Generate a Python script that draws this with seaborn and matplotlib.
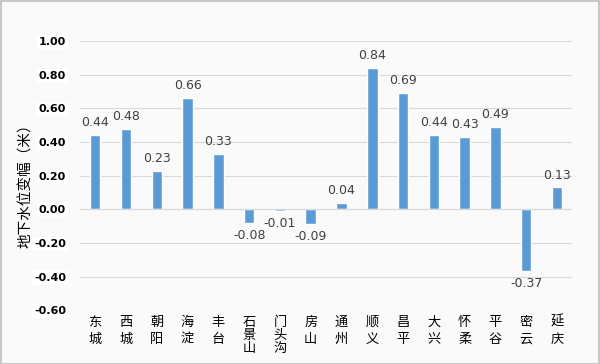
import matplotlib
matplotlib.use("Agg")
import matplotlib.pyplot as plt
import seaborn as sns
import pandas as pd
from matplotlib.patches import Rectangle

districts = ["东城", "西城", "朝阳", "海淀", "丰台", "石景山", "门头沟", "房山", "通州",
             "顺义", "昌平", "大兴", "怀柔", "平谷", "密云", "延庆"]
values = [0.44, 0.48, 0.23, 0.66, 0.33, -0.08, -0.01, -0.09, 0.04,
          0.84, 0.69, 0.44, 0.43, 0.49, -0.37, 0.13]
yticks = [-0.6, -0.4, -0.2, 0.0, 0.2, 0.4, 0.6, 0.8, 1.0]
ylabel = "地下水位变幅（米）"

sns.set_theme(style="white")
plt.rcParams['font.family'] = ['Noto Sans CJK SC', 'DejaVu Sans']

df = pd.DataFrame({"district": districts, "value": values})

fig = plt.figure(figsize=(6.0, 3.64), dpi=100)
fig.patch.set_facecolor("#fafafa")
ax = fig.add_axes([0.133, 0.148, 0.821, 0.739])
ax.set_facecolor("#fafafa")

sns.barplot(data=df, x="district", y="value", color="#5b9bd5", saturation=1,
            width=0.34, ax=ax)

ax.set_ylim(-0.6, 1.0)
ax.set_xlim(-0.5, len(districts) - 0.5)
ax.set_yticks(yticks)
ax.yaxis.grid(True, color="#d9d9d9", linewidth=0.8)
ax.set_axisbelow(True)
ax.axhline(0, color="#d9d9d9", linewidth=0.9, zorder=1)
for s in ax.spines.values():
    s.set_visible(False)

ax.set_yticklabels([f"{t:.2f}" for t in yticks], fontsize=8, fontweight="bold",
                   color="#000000", family=["DejaVu Sans"])
for lbl in ax.get_yticklabels():
    lbl.set_bbox(dict(facecolor="white", edgecolor="none", pad=1.5))
ax.tick_params(axis="y", length=0, pad=10)

ax.set_xticks(range(len(districts)))
ax.set_xticklabels(["\n".join(d) for d in districts], fontsize=9.5, color="#000000",
                   va="top")
for lbl, d in zip(ax.get_xticklabels(), districts):
    lbl.set_linespacing(1.02 if len(d) > 2 else 1.4)
ax.tick_params(axis="x", length=0, pad=4)
ax.set_xlabel("")
ax.set_ylabel("")
fig.text(26 / 600, 1 - 182 / 364, ylabel, rotation=90, ha="center", va="center",
         fontsize=10.5, color="#000000")

for i, v in enumerate(values):
    off = 0.035 if v >= 0 else -0.035
    ax.text(i, v + off, f"{v:.2f}", ha="center", va="bottom" if v >= 0 else "top",
            fontsize=9, color="#404040", family=["DejaVu Sans"])

fig.patches.append(Rectangle((0.001, 0.001), 0.997, 0.996, transform=fig.transFigure,
                             fill=False, edgecolor="#bfbfbf", linewidth=1.2))

fig.savefig("out.png", dpi=100, facecolor=fig.get_facecolor())
